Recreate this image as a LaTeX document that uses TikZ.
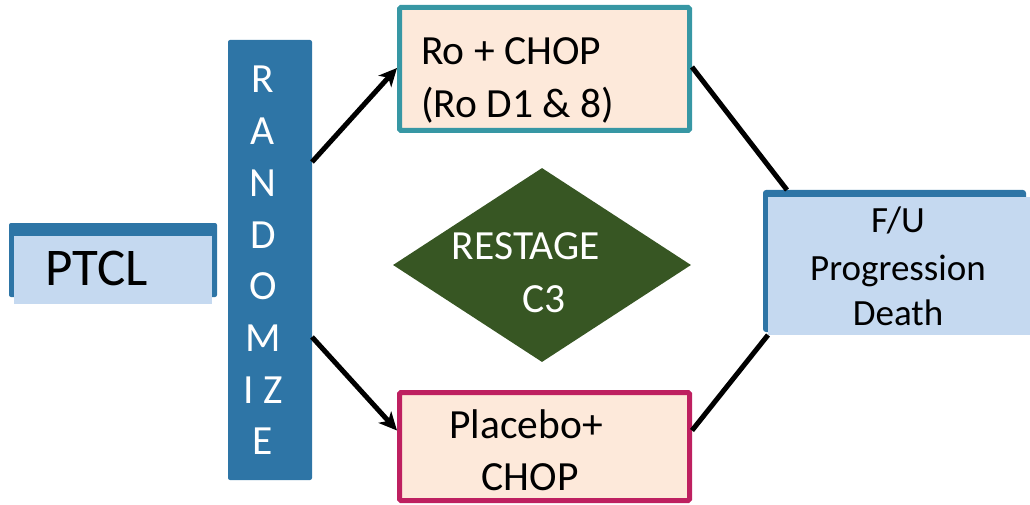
\documentclass[tikz,border=0pt]{standalone}
\usepackage{fontspec}
\setmainfont{Carlito}
\usetikzlibrary{shapes.geometric,arrows.meta,calc}
\definecolor{dblue}{HTML}{2E75A6}
\definecolor{lblue}{HTML}{C5D9F0}
\definecolor{teal2}{HTML}{3797A4}
\definecolor{crim}{HTML}{BE2060}
\definecolor{peach}{HTML}{FDE9DA}
\definecolor{dgreen}{HTML}{375623}
\tikzset{
  darkrect/.style={fill=dblue, draw=none, rounded corners=2pt, inner sep=0pt, outer sep=0pt},
  lightrect/.style={fill=lblue, draw=none, inner sep=0pt, outer sep=0pt},
  armbox/.style={fill=peach, line width=5pt, inner sep=0pt, rounded corners=1.5pt},
  txt/.style={inner sep=0pt, anchor=base, text=black},
  conn/.style={line width=5pt, black},
  arr/.style={conn, -{Stealth[length=18pt,width=17pt,inset=5pt]}},
  f42/.style={font=\fontsize{41.5}{50}\selectfont},
}
\begin{document}
\begin{tikzpicture}[x=1pt,y=-1pt]
\useasboundingbox (0,0) rectangle (1030,505);
% PTCL
\node[darkrect, minimum width=208, minimum height=74] (ptcldark) at (113,260) {};
\node[lightrect, minimum width=198, minimum height=68] (ptcl) at (113,270) {};
\node[txt, font=\fontsize{53}{60}\selectfont] (ptcltxt) at (97,285) {PTCL};
% RANDOMIZE
\node[darkrect, minimum width=84, minimum height=440] (rand) at (270,260) {};
\foreach \l [count=\i] in {R,A,N,D,O,M,I Z,E}
  \node[txt, text=white, f42] (r\i) at (263,{93+51.7*(\i-1)}) {\l};
% top arm
\node[armbox, draw=teal2, minimum width=290, minimum height=123] (top) at (544.5,69) {};
\node[txt, anchor=base west, f42] (top1) at (421,65) {Ro + CHOP};
\node[txt, anchor=base west, f42] (top2) at (421,118) {(Ro D1 \& 8)};
% bottom arm
\node[armbox, draw=crim, minimum width=290, minimum height=108] (bot) at (544.5,446.5) {};
\node[txt, f42] (bot1) at (526,438) {Placebo+};
\node[txt, f42] (bot2) at (530,490) {CHOP};
% diamond
\node[diamond, fill=dgreen, inner sep=0pt, minimum width=298, minimum height=194] (restage) at (542,265) {};
\node[txt, text=white, f42] (rs1) at (526,259) {RESTAGE};
\node[txt, text=white, f42] (rs2) at (544,312) {C3};
% F/U
\node[darkrect, rounded corners=3pt, minimum width=263, minimum height=142] (fudark) at (894.5,261) {};
\node[lightrect, minimum width=262, minimum height=138] (fu) at (899,266) {};
\node[txt, font=\fontsize{37}{44}\selectfont] (fu1) at (898,233) {F/U};
\node[txt, font=\fontsize{37}{44}\selectfont] (fu2) at (898,280) {Progression};
\node[txt, font=\fontsize{37}{44}\selectfont] (fu3) at (898,325) {Death};
% connectors
\draw[arr] ([yshift=-122pt]rand.north east) -- ([yshift=1pt]top.west);
\draw[arr] ([yshift=143pt]rand.south east) -- ([yshift=16pt]bot.west);
\draw[conn] ([yshift=2pt]top.east) -- ([xshift=24pt]fudark.north west);
\draw[conn] ([yshift=16pt]bot.east) -- (fu.south west);
\end{tikzpicture}
\end{document}
